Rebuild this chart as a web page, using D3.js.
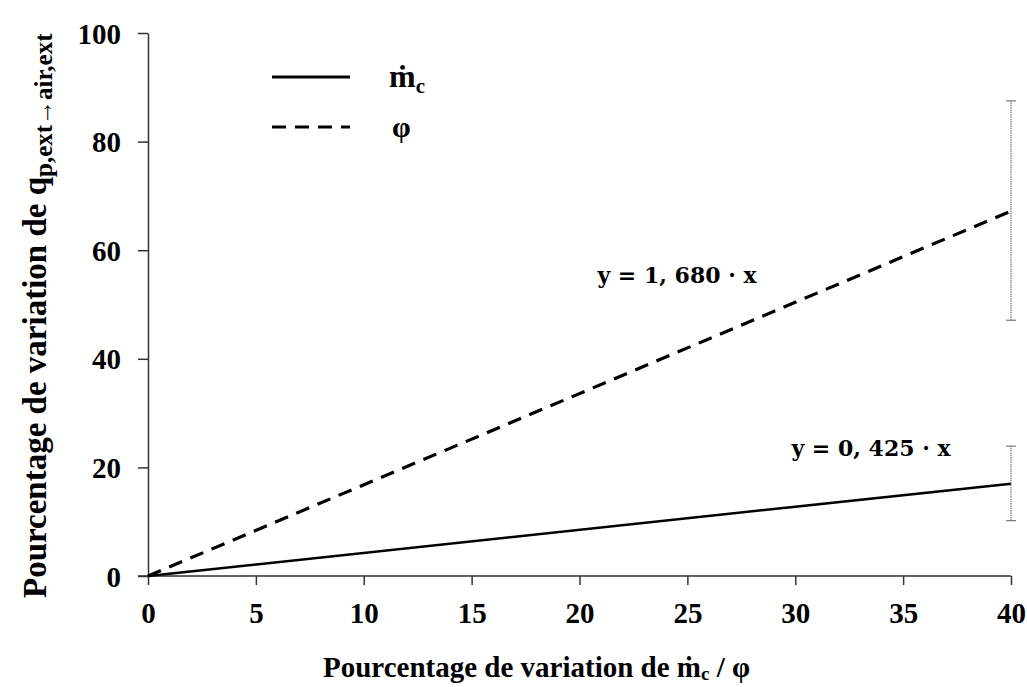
<!DOCTYPE html>
<html><head><meta charset="utf-8">
<script src="https://cdn.jsdelivr.net/npm/d3@7"></script>
<style>body{margin:0;background:#fff;} svg{display:block;}</style>
</head><body>
<svg id="c" width="1027" height="687"></svg>
<script>
const xTicks = [0,5,10,15,20,25,30,35,40];
const yTicks = [0,20,40,60,80,100];
const xData = [0, 40];
const mcValues = [0, 17.0];    // y = 0.425 x
const phiValues = [0, 67.2];   // y = 1.680 x
const errMc = [10.2, 23.9];
const errPhi = [47.1, 87.5];

const svg = d3.select("#c");
const x = d3.scaleLinear().domain([0,40]).range([148,1011]);
const y = d3.scaleLinear().domain([0,100]).range([576,33]);
const font = "'Liberation Serif','Times New Roman',serif";

// axes
const gx = svg.append("g").attr("transform","translate(0,576)")
  .call(d3.axisBottom(x).tickValues(xTicks).tickSize(9).tickPadding(17).tickSizeOuter(0));
const gy = svg.append("g").attr("transform","translate(148,0)")
  .call(d3.axisLeft(y).tickValues(yTicks).tickSize(10).tickPadding(17).tickSizeOuter(0));
[gx,gy].forEach(g=>{
  g.select(".domain").attr("stroke","#333").attr("stroke-width",1.5);
  g.selectAll(".tick line").attr("stroke","#333").attr("stroke-width",1.5);
  g.selectAll(".tick text").attr("font-family",font).attr("font-weight","bold")
   .attr("font-size",29).attr("fill","#000");
});
gy.selectAll(".tick text").attr("dy","0.35em");
gx.select(".domain").attr("d","M138,0H1011");

// lines
const line = d3.line().x((d,i)=>x(xData[i])).y(d=>y(d));
svg.append("path").datum(mcValues).attr("d",line).attr("fill","none")
  .attr("stroke","#000").attr("stroke-width",2.5);
svg.append("path").datum(phiValues).attr("d",line).attr("fill","none")
  .attr("stroke","#000").attr("stroke-width",3.2).attr("stroke-dasharray","14,9");

// error bars
[errMc, errPhi].forEach(e=>{
  const g = svg.append("g").attr("stroke","#777").attr("stroke-width",1.2);
  g.append("line").attr("x1",x(40)).attr("x2",x(40)).attr("y1",y(e[0])).attr("y2",y(e[1]))
    .attr("stroke-dasharray","1.5,0.8");
  [e[0],e[1]].forEach(v=>g.append("line").attr("x1",x(40)-5).attr("x2",x(40)+5)
    .attr("y1",y(v)).attr("y2",y(v)));
});

// legend
svg.append("line").attr("x1",272).attr("x2",350).attr("y1",77).attr("y2",77)
  .attr("stroke","#000").attr("stroke-width",3);
svg.append("line").attr("x1",272).attr("x2",350).attr("y1",127).attr("y2",127)
  .attr("stroke","#000").attr("stroke-width",3.2).attr("stroke-dasharray","14,9");
const l1 = svg.append("text").attr("x",389).attr("y",87).attr("font-family",font)
  .attr("font-weight","bold").attr("font-size",32);
l1.append("tspan").text("ṁ");
l1.append("tspan").attr("font-size",21).attr("dy",6).text("c");
svg.append("text").attr("x",392).attr("y",137).attr("font-family",font)
  .attr("font-weight","bold").attr("font-size",30).text("φ");

// equations
svg.append("text").attr("x",677).attr("y",283).attr("text-anchor","middle")
  .attr("font-family","'DejaVu Serif',serif").attr("font-weight","bold").attr("font-size",22)
  .text("y = 1, 680 · x");
svg.append("text").attr("x",871).attr("y",456).attr("text-anchor","middle")
  .attr("font-family","'DejaVu Serif',serif").attr("font-weight","bold").attr("font-size",22)
  .text("y = 0, 425 · x");

// x label
const xl = svg.append("text").attr("x",323).attr("y",677).attr("text-anchor","start")
  .attr("font-family",font).attr("font-weight","bold").attr("font-size",29);
xl.append("tspan").text("Pourcentage de variation de ṁ");
xl.append("tspan").attr("font-size",19).attr("dy",3).text("c");
xl.append("tspan").attr("dy",-3).text(" / φ");

// y label
const yl = svg.append("text").attr("transform","translate(46,598) rotate(-90)")
  .attr("text-anchor","start").attr("font-family",font).attr("font-weight","bold").attr("font-size",33);
yl.append("tspan").text("Pourcentage de variation de q");
yl.append("tspan").attr("font-size",25).attr("dy",6).text("p,ext→air,ext");
</script>
</body></html>
